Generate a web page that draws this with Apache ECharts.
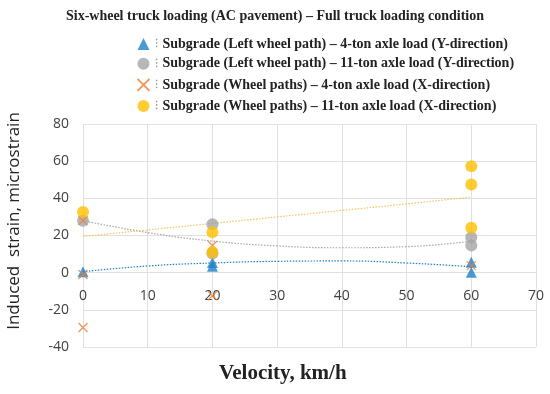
<!DOCTYPE html>
<html><head><meta charset="utf-8">
<script src="https://cdn.jsdelivr.net/npm/echarts@6/dist/echarts.min.js"></script>
<style>html,body{margin:0;padding:0;background:#fff}#c{width:550px;height:394px}</style>
</head><body><div id="c"></div>
<script>
const titleText = "Six-wheel truck loading (AC pavement) \u2013 Full truck loading condition";
const seriesNames = [
  "Subgrade (Left wheel path) \u2013 4-ton axle load (Y-direction)",
  "Subgrade (Left wheel path) \u2013 11-ton axle load (Y-direction)",
  "Subgrade (Wheel paths) \u2013 4-ton axle load (X-direction)",
  "Subgrade (Wheel paths) \u2013 11-ton axle load (X-direction)"
];
// [velocity, strain]
const left4Y  = [[0,0.5],[20,5.5],[20,3.4],[60,5.6],[60,0.2]];
const left11Y = [[0,28],[20,26],[20,10.3],[60,19],[60,14.6]];
const wheel4X = [[0,28],[0,-1],[0,-29.5],[20,14.6],[20,-12.4],[60,3.8]];
const wheel11X= [[0,32.6],[20,21.8],[20,11],[60,57.3],[60,47.4],[60,24.2]];
// trendlines at x = 0,10,...,60
const trendX = [0,10,20,30,40,50,60];
const trendLeft4Y  = [0.5,3.6,5.2,6.1,6.3,5.2,3.2];
const trendLeft11Y = [28,21.6,17,14.4,13.4,14,17];
const trendWheel11X= [19.5,23,26.5,30,33.5,37,40.7];
const xTicks = {min:0,max:70,interval:10};
const yTicks = {min:-40,max:80,interval:20};

const colors = ['#1F7FC8','#A5A5A5','#ED7D31','#FFC000'];
const serif = '"Liberation Serif", "DejaVu Serif", serif';
const sans = '"Open Sans", "Noto Sans", sans-serif';
const xMark = 'path://M0,0L1,1M1,0L0,1';

function trend(vals, color){
  return {type:'line', data: trendX.map((x,i)=>[x, vals[i]]), smooth:true, symbol:'none',
    lineStyle:{color:color, width:1.2, type:[1.5,1.5]}, silent:true, z:1};
}

const chart = echarts.init(document.getElementById('c'));
chart.setOption({
  animation:false,
  title:{text:titleText, left:'center', top:4, textStyle:{fontFamily:serif, fontWeight:'bold', fontSize:14, color:'#222'}},
  legend:{
    orient:'vertical', left:130, top:32, itemGap:5.7, itemWidth:12, itemHeight:12,
    data: seriesNames.map((n,i)=>({name:n, icon: i===0?'triangle':(i===2?xMark:'circle')})),
    formatter: n => '{c|\u205D}' + n,
    textStyle:{fontFamily:serif, fontWeight:'bold', fontSize:14, color:'#222',
      rich:{c:{color:'#999', fontSize:12, fontWeight:'normal', padding:[0,5,0,0]}}}
  },
  grid:{left:83, right:14, top:124, bottom:47},
  xAxis:{type:'value', min:xTicks.min, max:xTicks.max, interval:xTicks.interval, offset:-75,
    axisLine:{show:false}, axisTick:{show:false},
    axisLabel:{fontFamily:sans, fontSize:14, color:'#404040', margin:17},
    splitLine:{lineStyle:{color:'#e0e0e0'}}},
  yAxis:{type:'value', min:yTicks.min, max:yTicks.max, interval:yTicks.interval,
    axisLine:{show:false}, axisTick:{show:false},
    axisLabel:{fontFamily:sans, fontSize:14, color:'#404040', margin:14},
    splitLine:{lineStyle:{color:'#e0e0e0'}}},
  graphic:[
    {type:'text', left:219, top:363, style:{text:'Velocity, km/h', font:'bold 21px '+serif, fill:'#222'}},
    {type:'text', x:14, y:221, rotation:Math.PI/2,
      style:{text:'Induced  strain, microstrain', font:'17px '+sans, fill:'#222', align:'center', verticalAlign:'middle'}}
  ],
  series:[
    trend(trendLeft4Y, colors[0]),
    trend(trendLeft11Y, colors[1]),
    trend(trendWheel11X, '#F5C45A'),
    {name:seriesNames[0], type:'scatter', data:left4Y, symbol:'triangle', symbolSize:11, itemStyle:{color:colors[0]}, z:3},
    {name:seriesNames[1], type:'scatter', data:left11Y, symbol:'circle', symbolSize:12, itemStyle:{color:colors[1]}, z:3},
    {name:seriesNames[2], type:'scatter', data:wheel4X, symbol:xMark, symbolSize:9,
      itemStyle:{color:'none', borderColor:colors[2], borderWidth:1.3}, z:3},
    {name:seriesNames[3], type:'scatter', data:wheel11X, symbol:'circle', symbolSize:12, itemStyle:{color:colors[3]}, z:3}
  ]
});
</script></body></html>
